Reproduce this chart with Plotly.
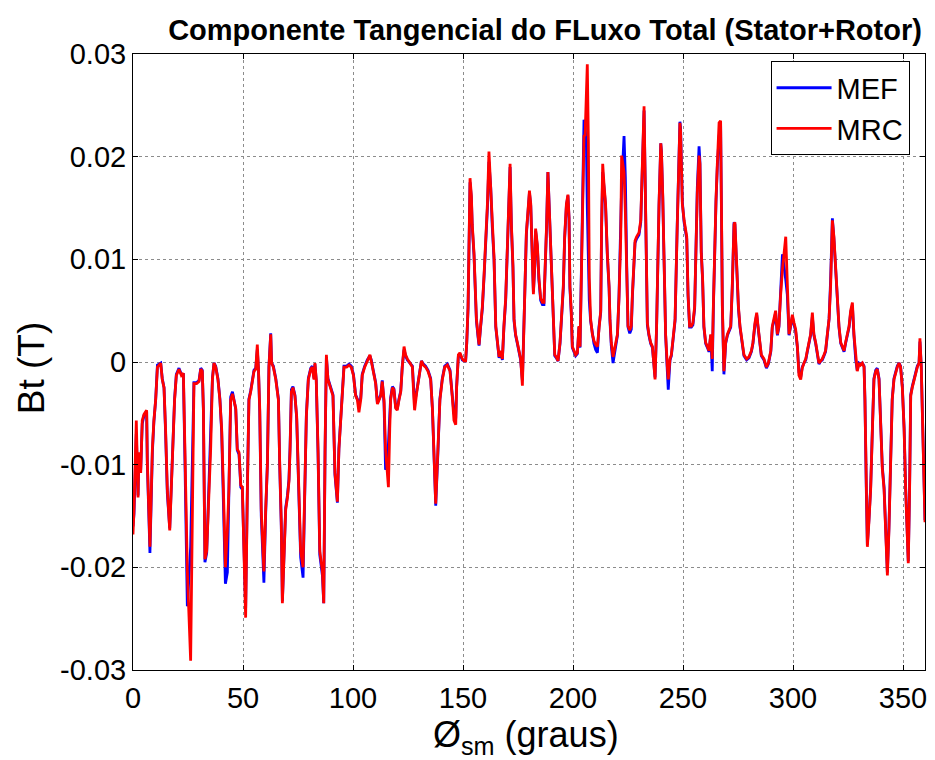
import plotly.graph_objects as go

# Mechanical angle (degrees)
angle = [
    0, 0.45, 1.5, 2.3, 2.7, 3.5, 4.2, 5.0, 6.2, 6.5, 7.7, 8.8, 9.5, 10.3, 11.1, 11.8, 12.6, 13.3, 14.1, 14.8,
    15.6, 16.7, 17.4, 18.2, 18.9, 19.7, 20.9, 22.0, 22.9, 23.6, 24.7, 26.2, 27.0, 27.7, 28.9, 30.0, 30.8, 31.5, 32.0, 32.7,
    33.5, 34.2, 35.3, 36.1, 36.8, 37.6, 38.6, 39.5, 40.3, 41.1, 42.0, 42.9, 43.6, 44.4, 45.2, 46.7, 47.4, 48.2, 49.0, 49.7,
    50.5, 51.2, 52.0, 52.7, 53.5, 54.2, 55.0, 55.8, 56.5, 57.0, 57.6, 58.3, 59.5, 60.3, 61.1, 61.8, 62.6, 63.0, 63.8, 64.9,
    66.1, 66.7, 67.4, 67.9, 68.6, 69.4, 70.2, 70.9, 71.4, 72.0, 72.7, 73.6, 74.4, 75.5, 76.2, 77.3, 78.2, 78.8, 79.7, 80.8,
    81.5, 82.3, 82.7, 83.3, 84.1, 84.9, 86.1, 86.7, 87.3, 87.9, 88.6, 89.9, 90.9, 91.8, 92.9, 93.6, 94.9, 95.9, 97.1, 98.2,
    99.2, 100.2, 101.2, 102.0, 102.7, 103.5, 104.2, 105.3, 106.5, 107.7, 108.3, 109.2, 110.3, 111.1, 111.8, 112.6, 113.3, 114.1, 114.8, 115.6,
    116.1, 116.7, 117.1, 117.9, 118.6, 119.4, 120.1, 120.9, 121.7, 122.4, 123.2, 123.9, 124.7, 125.9, 127.0, 127.7, 128.0, 129.0, 130.0, 131.1,
    132.0, 133.0, 134.1, 135.3, 136.1, 136.8, 137.6, 138.6, 139.5, 140.6, 141.7, 142.9, 144.1, 145.1, 145.9, 146.7, 147.1, 147.9, 148.6, 149.7,
    150.5, 151.2, 151.7, 152.3, 152.7, 153.2, 153.8, 154.2, 155.0, 155.5, 156.1, 156.8, 157.3, 158.0, 158.8, 159.6, 160.3, 161.1, 161.8, 162.6,
    163.3, 164.1, 164.9, 165.6, 166.4, 167.1, 167.9, 168.6, 169.4, 170.2, 170.9, 171.4, 172.0, 172.7, 173.2, 173.9, 174.7, 175.5, 176.2, 177.0,
    177.7, 178.2, 178.8, 179.5, 180.2, 180.8, 181.5, 182.0, 182.6, 183.0, 183.8, 184.5, 185.3, 186.1, 186.8, 187.6, 188.0, 188.6, 189.5, 190.2,
    190.9, 191.7, 192.4, 193.2, 194.1, 194.8, 195.6, 196.2, 197.0, 197.7, 198.2, 198.6, 199.2, 199.7, 200.5, 201.2, 202.0, 202.7, 203.2, 203.8,
    204.4, 205.0, 205.5, 206.1, 206.5, 207.0, 207.4, 208.0, 208.8, 209.5, 210.3, 211.1, 211.8, 212.6, 213.0, 213.5, 214.1, 214.8, 215.6, 216.4,
    216.8, 217.4, 218.2, 218.9, 220.2, 220.9, 221.7, 222.1, 223.2, 223.8, 224.4, 225.0, 225.8, 226.5, 227.0, 227.7, 228.2, 228.9, 230.0, 230.8,
    231.5, 232.3, 232.7, 233.3, 233.8, 234.5, 235.3, 236.1, 236.8, 237.3, 238.0, 238.6, 239.1, 239.9, 240.2, 240.8, 241.4, 242.1, 242.9, 243.3,
    244.1, 244.7, 245.5, 246.4, 247.4, 248.6, 248.9, 249.7, 250.5, 251.2, 251.7, 252.3, 253.0, 253.8, 254.5, 255.3, 255.9, 256.5, 257.3, 257.7,
    258.3, 258.9, 259.5, 260.3, 261.1, 261.8, 262.6, 263.3, 263.8, 264.4, 265.0, 265.6, 266.4, 267.1, 267.9, 268.6, 269.4, 270.2, 270.9, 271.7,
    272.4, 273.2, 273.6, 274.4, 275.2, 275.9, 277.0, 277.7, 278.9, 280.0, 281.1, 281.8, 282.7, 283.5, 284.1, 284.9, 285.6, 286.8, 287.9, 288.8,
    289.9, 290.6, 291.4, 292.1, 292.9, 293.6, 294.4, 295.2, 296.7, 297.4, 298.2, 298.9, 299.7, 300.5, 301.2, 302.0, 302.7, 303.5, 304.2, 305.0,
    305.8, 306.5, 307.3, 308.0, 308.8, 309.5, 310.3, 311.1, 311.8, 312.6, 313.3, 314.1, 314.8, 315.6, 316.4, 317.1, 317.9, 318.6, 319.4, 320.2,
    320.9, 321.7, 322.4, 323.2, 323.9, 324.7, 325.5, 326.2, 327.0, 327.7, 328.5, 329.2, 330.0, 330.7, 331.5, 332.3, 332.7, 333.3, 333.8, 334.5,
    335.3, 336.1, 336.8, 337.6, 338.3, 339.1, 339.8, 340.6, 341.4, 342.1, 342.9, 343.6, 344.4, 345.1, 345.9, 346.7, 347.4, 348.2, 348.9, 349.7,
    350.5, 351.2, 352.0, 352.4, 353.0, 353.5, 354.2, 355.0, 355.8, 356.5, 357.3, 357.7, 358.3, 359.2, 360.0,
]

# MRC tangential flux density (T)
mrc = [
    -0.0168, -0.0144, -0.0057, -0.0132, -0.0088, -0.0108, -0.0057, -0.0051, -0.0047, -0.0096, -0.0180, -0.0085, -0.0057, -0.0037, -0.0005, -0.0003, -0.0001, -0.0017, -0.0025, -0.0065,
    -0.0124, -0.0164, -0.0124, -0.0061, -0.0037, -0.0013, -0.0007, -0.0013, -0.0011, -0.0085, -0.0204, -0.0291, -0.0144, -0.0021, -0.0021, -0.0019, -0.0007, -0.0009, -0.0045, -0.0192,
    -0.0184, -0.0144, -0.0085, -0.0017, -0.0001, -0.0005, -0.0017, -0.0037, -0.0065, -0.0124, -0.0200, -0.0164, -0.0124, -0.0037, -0.0031, -0.0045, -0.0085, -0.0088, -0.0120, -0.0122,
    -0.0184, -0.0249, -0.0124, -0.0037, -0.0029, -0.0017, -0.0009, -0.0007, 0.0017, -0.0005, -0.0045, -0.0144, -0.0204, -0.0144, -0.0100, -0.0005, 0.0027, -0.0001, -0.0005, -0.0017,
    -0.0037, -0.0100, -0.0156, -0.0235, -0.0184, -0.0144, -0.0132, -0.0116, -0.0085, -0.0029, -0.0025, -0.0033, -0.0053, -0.0124, -0.0184, -0.0200, -0.0104, -0.0053, -0.0017, -0.0007,
    -0.0005, -0.0017, -0.0001, -0.0017, -0.0085, -0.0184, -0.0204, -0.0235, -0.0085, 0.0007, -0.0017, -0.0025, -0.0033, -0.0108, -0.0136, -0.0085, -0.0037, -0.0005, -0.0005, -0.0003,
    -0.0005, -0.0013, -0.0033, -0.0037, -0.0049, -0.0037, -0.0013, -0.0005, 0.0001, 0.0007, 0.0001, -0.0009, -0.0021, -0.0041, -0.0037, -0.0033, -0.0019, -0.0037, -0.0085, -0.0104,
    -0.0122, -0.0065, -0.0037, -0.0025, -0.0027, -0.0045, -0.0047, -0.0037, -0.0029, -0.0005, 0.0015, 0.0007, 0.0003, -0.0001, -0.0005, -0.0037, -0.0047, -0.0029, -0.0013, 0.0001,
    -0.0003, -0.0005, -0.0009, -0.0017, -0.0045, -0.0085, -0.0138, -0.0085, -0.0037, -0.0017, -0.0005, -0.0003, -0.0009, -0.0033, -0.0057, -0.0061, -0.0025, 0.0007, 0.0009, 0.0003,
    0.0001, 0.0001, 0.0019, 0.0054, 0.0122, 0.0179, 0.0162, 0.0134, 0.0106, 0.0066, 0.0042, 0.0027, 0.0017, 0.0035, 0.0054, 0.0086, 0.0114, 0.0154, 0.0205, 0.0173,
    0.0134, 0.0102, 0.0035, 0.0019, 0.0005, 0.0011, 0.0003, 0.0035, 0.0062, 0.0114, 0.0154, 0.0193, 0.0134, 0.0094, 0.0042, 0.0027, 0.0019, 0.0011, 0.0003, -0.0023,
    0.0027, 0.0078, 0.0126, 0.0146, 0.0167, 0.0154, 0.0114, 0.0066, 0.0094, 0.0130, 0.0114, 0.0082, 0.0062, 0.0058, 0.0058, 0.0102, 0.0134, 0.0185, 0.0134, 0.0082,
    0.0050, 0.0007, 0.0005, 0.0001, 0.0019, 0.0042, 0.0074, 0.0122, 0.0154, 0.0163, 0.0141, 0.0074, 0.0050, 0.0015, 0.0011, 0.0007, 0.0009, 0.0035, 0.0015, 0.0074,
    0.0158, 0.0220, 0.0221, 0.0265, 0.0290, 0.0213, 0.0082, 0.0042, 0.0027, 0.0021, 0.0017, 0.0015, 0.0035, 0.0050, 0.0134, 0.0193, 0.0173, 0.0154, 0.0106, 0.0074,
    0.0042, 0.0019, 0.0005, 0.0013, 0.0027, 0.0062, 0.0122, 0.0201, 0.0185, 0.0146, 0.0090, 0.0035, 0.0031, 0.0035, 0.0066, 0.0094, 0.0118, 0.0122, 0.0126, 0.0138,
    0.0193, 0.0249, 0.0193, 0.0090, 0.0038, 0.0027, 0.0019, 0.0015, -0.0001, -0.0017, 0.0035, 0.0114, 0.0154, 0.0213, 0.0205, 0.0162, 0.0082, 0.0027, -0.0005, -0.0017,
    0.0003, 0.0007, 0.0023, 0.0042, 0.0134, 0.0233, 0.0225, 0.0154, 0.0138, 0.0130, 0.0122, 0.0066, 0.0035, 0.0035, 0.0038, 0.0054, 0.0114, 0.0165, 0.0201, 0.0193,
    0.0106, 0.0082, 0.0035, 0.0019, 0.0015, 0.0011, 0.0027, 0.0003, 0.0054, 0.0114, 0.0158, 0.0193, 0.0233, 0.0235, 0.0054, -0.0009, 0.0019, 0.0027, 0.0031, 0.0035,
    0.0074, 0.0134, 0.0136, 0.0090, 0.0054, 0.0035, 0.0019, 0.0007, 0.0003, 0.0005, 0.0011, 0.0019, 0.0038, 0.0048, 0.0035, 0.0019, 0.0007, 0.0003, -0.0005, -0.0001,
    0.0011, 0.0035, 0.0042, 0.0050, 0.0027, 0.0035, 0.0066, 0.0090, 0.0122, 0.0074, 0.0027, 0.0035, 0.0046, 0.0038, 0.0032, 0.0015, -0.0013, -0.0017, -0.0006, -0.0001,
    0.0003, 0.0011, 0.0019, 0.0027, 0.0048, 0.0027, 0.0019, 0.0007, -0.0001, 0.0001, 0.0003, 0.0007, 0.0011, 0.0027, 0.0042, 0.0074, 0.0138, 0.0122, 0.0090, 0.0054,
    0.0035, 0.0019, 0.0015, 0.0011, 0.0019, 0.0027, 0.0035, 0.0050, 0.0058, 0.0027, 0.0003, -0.0009, -0.0001, -0.0003, -0.0001, -0.0005, -0.0037, -0.0124, -0.0180, -0.0156,
    -0.0124, -0.0065, -0.0017, -0.0009, -0.0007, -0.0017, -0.0065, -0.0104, -0.0124, -0.0164, -0.0208, -0.0164, -0.0104, -0.0037, -0.0017, -0.0009, -0.0005, -0.0001, -0.0005, -0.0025,
    -0.0065, -0.0124, -0.0164, -0.0196, -0.0124, -0.0033, -0.0025, -0.0017, -0.0009, -0.0005, -0.0001, 0.0023, -0.0005, -0.0085, -0.0156,
]

# MEF tangential flux density (T)
mef = [
    -0.0160, -0.0148, -0.0070, -0.0130, -0.0090, -0.0105, -0.0060, -0.0052, -0.0048, -0.0098, -0.0186, -0.0088, -0.0058, -0.0037, -0.0003, -0.0002, -0.0001, -0.0016, -0.0025, -0.0068,
    -0.0128, -0.0162, -0.0122, -0.0060, -0.0036, -0.0012, -0.0006, -0.0012, -0.0012, -0.0095, -0.0238, -0.0180, -0.0080, -0.0020, -0.0020, -0.0018, -0.0006, -0.0008, -0.0048, -0.0195,
    -0.0186, -0.0142, -0.0082, -0.0016, -0.0001, -0.0004, -0.0016, -0.0036, -0.0068, -0.0130, -0.0216, -0.0205, -0.0130, -0.0034, -0.0029, -0.0046, -0.0086, -0.0090, -0.0122, -0.0124,
    -0.0186, -0.0240, -0.0120, -0.0036, -0.0028, -0.0016, -0.0008, -0.0006, 0.0012, -0.0006, -0.0048, -0.0150, -0.0215, -0.0148, -0.0098, -0.0004, 0.0028, -0.0001, -0.0004, -0.0016,
    -0.0036, -0.0102, -0.0160, -0.0233, -0.0182, -0.0142, -0.0130, -0.0114, -0.0082, -0.0027, -0.0024, -0.0032, -0.0055, -0.0128, -0.0190, -0.0210, -0.0106, -0.0052, -0.0016, -0.0006,
    -0.0004, -0.0016, -0.0002, -0.0018, -0.0088, -0.0188, -0.0208, -0.0235, -0.0088, 0.0005, -0.0016, -0.0024, -0.0032, -0.0110, -0.0137, -0.0084, -0.0036, -0.0004, -0.0004, -0.0002,
    -0.0004, -0.0012, -0.0032, -0.0036, -0.0040, -0.0036, -0.0012, -0.0004, 0.0002, 0.0006, 0.0002, -0.0008, -0.0020, -0.0040, -0.0036, -0.0032, -0.0018, -0.0040, -0.0105, -0.0100,
    -0.0080, -0.0050, -0.0035, -0.0024, -0.0026, -0.0044, -0.0046, -0.0036, -0.0028, -0.0004, 0.0012, 0.0006, 0.0002, -0.0001, -0.0004, -0.0030, -0.0040, -0.0028, -0.0012, 0.0001,
    -0.0002, -0.0004, -0.0008, -0.0016, -0.0046, -0.0088, -0.0140, -0.0088, -0.0036, -0.0016, -0.0004, -0.0002, -0.0008, -0.0032, -0.0050, -0.0055, -0.0024, 0.0006, 0.0008, 0.0002,
    0.0001, 0.0001, 0.0018, 0.0052, 0.0120, 0.0175, 0.0160, 0.0132, 0.0104, 0.0064, 0.0040, 0.0025, 0.0016, 0.0034, 0.0052, 0.0084, 0.0112, 0.0150, 0.0195, 0.0170,
    0.0132, 0.0100, 0.0034, 0.0018, 0.0004, 0.0010, 0.0002, 0.0034, 0.0060, 0.0112, 0.0152, 0.0190, 0.0132, 0.0092, 0.0040, 0.0026, 0.0018, 0.0010, 0.0002, -0.0018,
    0.0026, 0.0076, 0.0124, 0.0146, 0.0165, 0.0152, 0.0112, 0.0068, 0.0092, 0.0128, 0.0112, 0.0080, 0.0060, 0.0056, 0.0056, 0.0100, 0.0132, 0.0185, 0.0132, 0.0080,
    0.0048, 0.0006, 0.0004, 0.0001, 0.0018, 0.0040, 0.0072, 0.0120, 0.0152, 0.0162, 0.0140, 0.0072, 0.0048, 0.0014, 0.0010, 0.0006, 0.0008, 0.0034, 0.0014, 0.0080,
    0.0175, 0.0236, 0.0230, 0.0210, 0.0150, 0.0090, 0.0060, 0.0040, 0.0026, 0.0018, 0.0012, 0.0009, 0.0034, 0.0048, 0.0130, 0.0185, 0.0170, 0.0152, 0.0104, 0.0072,
    0.0040, 0.0016, -0.0001, 0.0010, 0.0026, 0.0064, 0.0130, 0.0170, 0.0220, 0.0180, 0.0096, 0.0034, 0.0028, 0.0032, 0.0064, 0.0092, 0.0116, 0.0120, 0.0124, 0.0136,
    0.0190, 0.0245, 0.0190, 0.0088, 0.0036, 0.0026, 0.0018, 0.0014, -0.0002, -0.0015, 0.0034, 0.0112, 0.0152, 0.0213, 0.0205, 0.0160, 0.0080, 0.0026, -0.0010, -0.0027,
    0.0002, 0.0006, 0.0022, 0.0040, 0.0136, 0.0234, 0.0228, 0.0156, 0.0136, 0.0128, 0.0120, 0.0064, 0.0034, 0.0034, 0.0036, 0.0052, 0.0116, 0.0170, 0.0210, 0.0195,
    0.0108, 0.0080, 0.0034, 0.0018, 0.0014, 0.0010, 0.0026, -0.0009, 0.0052, 0.0112, 0.0156, 0.0190, 0.0220, 0.0230, 0.0052, -0.0012, 0.0018, 0.0026, 0.0030, 0.0034,
    0.0072, 0.0136, 0.0134, 0.0088, 0.0052, 0.0034, 0.0018, 0.0006, 0.0002, 0.0004, 0.0010, 0.0018, 0.0036, 0.0046, 0.0034, 0.0018, 0.0006, 0.0002, -0.0006, -0.0002,
    0.0010, 0.0034, 0.0040, 0.0048, 0.0026, 0.0034, 0.0070, 0.0105, 0.0080, 0.0066, 0.0026, 0.0034, 0.0044, 0.0036, 0.0030, 0.0014, -0.0010, -0.0015, -0.0005, -0.0001,
    0.0002, 0.0010, 0.0018, 0.0026, 0.0044, 0.0026, 0.0018, 0.0006, -0.0002, 0.0001, 0.0002, 0.0006, 0.0010, 0.0026, 0.0042, 0.0080, 0.0140, 0.0120, 0.0088, 0.0052,
    0.0034, 0.0018, 0.0014, 0.0010, 0.0018, 0.0026, 0.0034, 0.0048, 0.0055, 0.0026, 0.0002, -0.0008, -0.0001, -0.0002, -0.0001, -0.0004, -0.0036, -0.0122, -0.0178, -0.0154,
    -0.0122, -0.0064, -0.0016, -0.0008, -0.0006, -0.0016, -0.0064, -0.0102, -0.0122, -0.0162, -0.0205, -0.0162, -0.0102, -0.0036, -0.0016, -0.0008, -0.0004, -0.0001, -0.0004, -0.0024,
    -0.0064, -0.0122, -0.0162, -0.0194, -0.0122, -0.0032, -0.0024, -0.0016, -0.0008, -0.0004, -0.0001, 0.0020, -0.0004, -0.0084, -0.0154,
]

x_ticks = [0, 50, 100, 150, 200, 250, 300, 350]
y_ticks = [-0.03, -0.02, -0.01, 0, 0.01, 0.02, 0.03]
y_ticktext = ["-0.03", "-0.02", "-0.01", "0", "0.01", "0.02", "0.03"]

FONT = "Liberation Sans, Arial, Helvetica, sans-serif"

fig = go.Figure()
fig.add_trace(go.Scatter(x=angle, y=mef, name="MEF", mode="lines",
                         line=dict(color="#0000ff", width=2.8)))
fig.add_trace(go.Scatter(x=angle, y=mrc, name="MRC", mode="lines",
                         line=dict(color="#ff0000", width=2.8)))

axis_common = dict(
    showgrid=True, gridcolor="#8c8c8c", griddash="dot", gridwidth=1,
    showline=True, linecolor="black", linewidth=1, mirror="ticks",
    ticks="inside", ticklen=5, tickcolor="black",
    tickfont=dict(family=FONT, size=29, color="black"),
    zeroline=False,
)

fig.update_layout(
    width=935, height=760,
    margin=dict(l=133, r=8, t=54, b=90),
    paper_bgcolor="white", plot_bgcolor="white",
    title=dict(text="<b>Componente Tangencial do FLuxo Total (Stator+Rotor)</b>",
               font=dict(family=FONT, size=29, color="black"),
               x=545 / 935, xref="container", xanchor="center",
               y=1 - 30 / 760, yref="container", yanchor="middle"),
    xaxis=dict(range=[0, 360], tickvals=x_ticks, ticklabelstandoff=2, **axis_common),
    yaxis=dict(range=[-0.03, 0.03], tickvals=y_ticks, ticktext=y_ticktext, **axis_common),
    legend=dict(x=0.805, y=0.988, xanchor="left", yanchor="top",
                bgcolor="white", bordercolor="black", borderwidth=1,
                font=dict(family=FONT, size=29, color="black"),
                itemwidth=55, tracegroupgap=0),
    showlegend=True,
    annotations=[
        dict(text="Ø<sub>sm</sub> (graus)", xref="paper", yref="paper",
             x=(527 - 133) / 794, y=(670 - 737) / 616, xanchor="center", yanchor="middle",
             showarrow=False, font=dict(family=FONT, size=36, color="black")),
        dict(text="Bt (T)", xref="paper", yref="paper", textangle=-90,
             x=(31 - 133) / 794, y=(670 - 368) / 616, xanchor="center", yanchor="middle",
             showarrow=False, font=dict(family=FONT, size=37, color="black")),
    ],
)

fig.write_html("out.html")
